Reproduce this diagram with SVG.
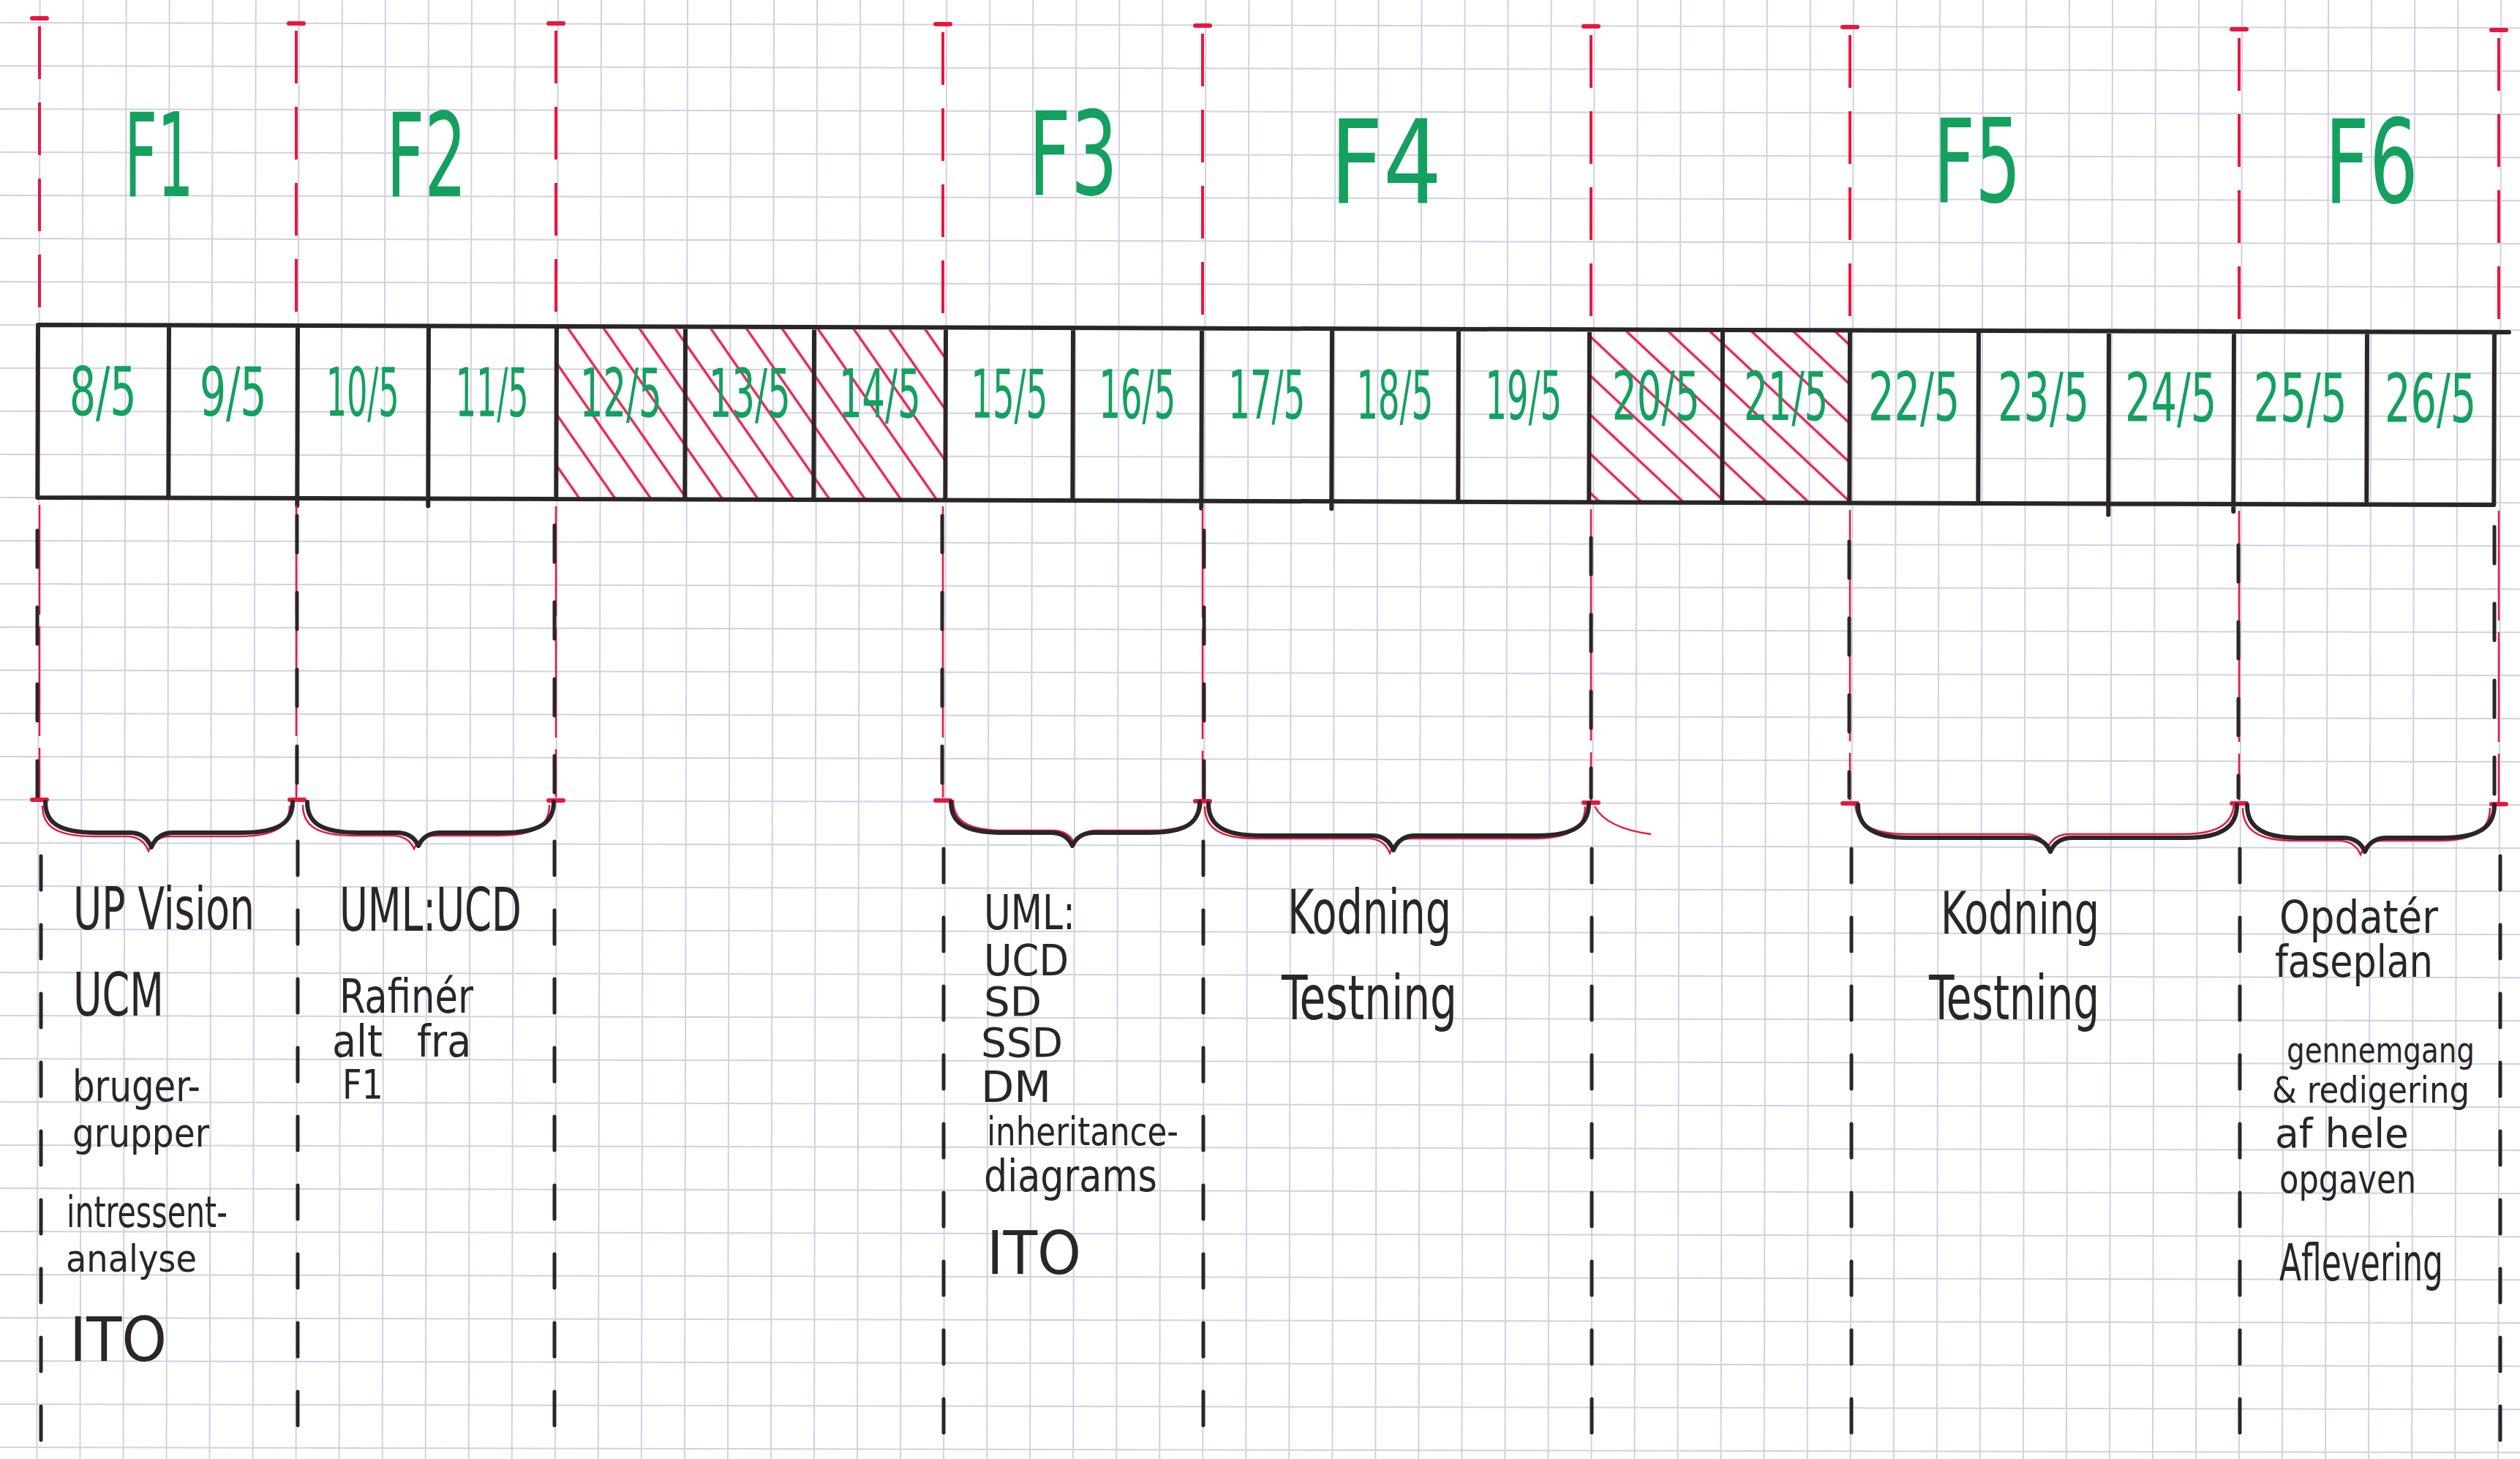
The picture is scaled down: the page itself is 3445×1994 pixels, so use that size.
<svg xmlns="http://www.w3.org/2000/svg" xmlns:xlink="http://www.w3.org/1999/xlink" width="3445" height="1994" viewBox="0 0 3445 1994">
<style>
.hw{font-family:"Liberation Sans Narrow","DejaVu Sans Condensed","Liberation Sans",sans-serif;fill:#2a2527}
.gr{font-family:"Liberation Sans Narrow","DejaVu Sans Condensed","Liberation Sans",sans-serif;fill:#14a05f}
.date{font-size:92px;text-anchor:middle}
.phase{font-size:158px}
.tbl{stroke:#2a2527;stroke-width:6;fill:none;stroke-linecap:round}
.redtop{stroke:#e8173f;stroke-width:4;fill:none;stroke-dasharray:72 32}
.redmid{stroke:#e8173f;stroke-width:2.5;fill:none;stroke-dasharray:150 16}
.blkmid{stroke:#2a2527;stroke-width:5;fill:none;stroke-dasharray:50 55;stroke-linecap:round}
.blkbot{stroke:#2a2527;stroke-width:5;fill:none;stroke-dasharray:46 48;stroke-linecap:round}
.tick{stroke:#e8173f;stroke-width:6;fill:none;stroke-linecap:round}
.brace{stroke:#2a2527;stroke-width:6;fill:none;stroke-linecap:round;stroke-linejoin:round}
.brace-red{stroke:#e8173f;stroke-width:2.5;fill:none}
</style>
<defs>
<pattern id="grid" patternUnits="userSpaceOnUse" x="53.6" y="30" width="59.03" height="59" patternTransform="rotate(0.12)">
<path d="M0 1H59.03M1 0V59" stroke="#d0d1e2" stroke-width="2" fill="none"/>
</pattern>
<pattern id="hatchA" patternUnits="userSpaceOnUse" width="40" height="40" patternTransform="rotate(-35)">
<line x1="20" y1="0" x2="20" y2="40" stroke="#e8194b" stroke-width="3.2"/>
</pattern>
<pattern id="hatchB" patternUnits="userSpaceOnUse" width="39" height="40" patternTransform="rotate(-47)">
<line x1="20" y1="0" x2="20" y2="40" stroke="#e8194b" stroke-width="3.2"/>
</pattern>
<path id="b1" d="M62 1096 C62 1124 80 1138 132 1138 L177 1138 Q199 1138 207 1158 Q215 1138 237 1138 L330 1138 C382 1138 400 1124 400 1096"/>
<path id="b2" d="M420 1096 C420 1124 438 1138 490 1138 L542 1138 Q564 1138 572 1156 Q580 1138 602 1138 L687 1138 C739 1138 757 1124 757 1096"/>
<path id="b3" d="M1300 1096 C1300 1124 1318 1138 1370 1138 L1436 1138 Q1458 1138 1466 1156 Q1474 1138 1496 1138 L1570 1138 C1622 1138 1640 1124 1640 1096"/>
<path id="b4" d="M1652 1098 C1652 1126 1670 1142 1722 1142 L1875 1142 Q1897 1142 1905 1162 Q1913 1142 1935 1142 L2102 1142 C2154 1142 2172 1126 2172 1098"/>
<path id="b5" d="M2540 1100 C2540 1128 2558 1145 2610 1145 L2773 1145 Q2795 1145 2803 1164 Q2811 1145 2833 1145 L2988 1145 C3040 1145 3058 1128 3058 1100"/>
<path id="b6" d="M3072 1100 C3072 1128 3090 1145 3142 1145 L3203 1145 Q3225 1145 3233 1164 Q3241 1145 3263 1145 L3340 1145 C3392 1145 3410 1128 3410 1100"/>
</defs>

<g id="paper">
<rect width="3445" height="1994" fill="#ffffff"/>
<rect width="3445" height="1994" fill="url(#grid)"/>
</g>

<g id="timeline" transform="rotate(0.17 52 444)">
<rect id="hatch-12-14" x="761" y="447" width="532" height="233" fill="url(#hatchA)"/>
<rect id="hatch-20-21" x="2173" y="447" width="356" height="233" fill="url(#hatchB)"/>
<path class="tbl" d="M52 444H3430M52 680H3410M52 444V680M231 444V680M407 444V690M586 444V690M761 444V680M937 444V680M1113 444V680M1293 444V680M1467 444V680M1643 444V690M1821 444V690M1994 444V680M2173 444V680M2355 444V680M2529 444V680M2705 444V675M2883 444V695M3054 444V690M3236 444V675M3410 444V680"/>
<g id="dates">
<text class="gr date" x="141" y="567" textLength="92" lengthAdjust="spacingAndGlyphs">8/5</text>
<text class="gr date" x="319" y="567" textLength="92" lengthAdjust="spacingAndGlyphs">9/5</text>
<text class="gr date" x="496" y="567" textLength="100" lengthAdjust="spacingAndGlyphs">10/5</text>
<text class="gr date" x="673" y="567" textLength="100" lengthAdjust="spacingAndGlyphs">11/5</text>
<text class="gr date" x="849" y="567" textLength="112" lengthAdjust="spacingAndGlyphs">12/5</text>
<text class="gr date" x="1025" y="567" textLength="112" lengthAdjust="spacingAndGlyphs">13/5</text>
<text class="gr date" x="1203" y="567" textLength="112" lengthAdjust="spacingAndGlyphs">14/5</text>
<text class="gr date" x="1380" y="567" textLength="105" lengthAdjust="spacingAndGlyphs">15/5</text>
<text class="gr date" x="1555" y="567" textLength="105" lengthAdjust="spacingAndGlyphs">16/5</text>
<text class="gr date" x="1732" y="567" textLength="105" lengthAdjust="spacingAndGlyphs">17/5</text>
<text class="gr date" x="1907" y="567" textLength="105" lengthAdjust="spacingAndGlyphs">18/5</text>
<text class="gr date" x="2083" y="567" textLength="105" lengthAdjust="spacingAndGlyphs">19/5</text>
<text class="gr date" x="2264" y="567" textLength="120" lengthAdjust="spacingAndGlyphs">20/5</text>
<text class="gr date" x="2442" y="567" textLength="115" lengthAdjust="spacingAndGlyphs">21/5</text>
<text class="gr date" x="2617" y="567" textLength="125" lengthAdjust="spacingAndGlyphs">22/5</text>
<text class="gr date" x="2794" y="567" textLength="125" lengthAdjust="spacingAndGlyphs">23/5</text>
<text class="gr date" x="2968" y="567" textLength="125" lengthAdjust="spacingAndGlyphs">24/5</text>
<text class="gr date" x="3145" y="567" textLength="128" lengthAdjust="spacingAndGlyphs">25/5</text>
<text class="gr date" x="3323" y="567" textLength="125" lengthAdjust="spacingAndGlyphs">26/5</text>
</g>
</g>

<g id="phases">
<g id="phase-F1"><text class="gr phase" x="170" y="268" textLength="95" lengthAdjust="spacingAndGlyphs">F1</text></g>
<g id="phase-F2"><text class="gr phase" x="528" y="268" textLength="110" lengthAdjust="spacingAndGlyphs">F2</text></g>
<g id="phase-F3"><text class="gr phase" x="1406" y="266" textLength="122" lengthAdjust="spacingAndGlyphs">F3</text></g>
<g id="phase-F4"><text class="gr phase" x="1818" y="277" textLength="153" lengthAdjust="spacingAndGlyphs">F4</text></g>
<g id="phase-F5"><text class="gr phase" x="2643" y="276" textLength="120" lengthAdjust="spacingAndGlyphs">F5</text></g>
<g id="phase-F6"><text class="gr phase" x="3178" y="277" textLength="128" lengthAdjust="spacingAndGlyphs">F6</text></g>
</g>

<g id="connectors">
<g id="top-ticks">
<path class="tick" d="M44 25H64M395 32H415M750 32H770M1279 33H1299M1634 35H1654M2165 36H2185M2519 37H2539M3051 40H3071M3406 41H3426"/>
</g>
<g id="red-dashes-top">
<path class="redtop" d="M54 36V440M405 42V440M760 42V442M1289 44V444M1644 46V446M2175 48V448M2529 48V449M3061 52V451M3416 52V452"/>
</g>
<g id="mixed-dashes-mid">
<path class="redmid" d="M54 690V1090M405 690V1090M760 692V1090M1289 692V1090M1644 694V1092M2175 696V1094M2529 697V1094M3061 698V1094M3416 698V1096"/>
<path class="blkmid" d="M51 725V1090M406 705V1090M758 718V1090M1288 705V1090M1646 725V1090M2175 735V1090M2528 740V1090M3060 745V1090M3410 720V1090"/>
</g>
<g id="brace-ticks">
<path class="tick" d="M44 1093H64M396 1093H416M750 1094H770M1279 1094H1299M1634 1095H1654M2165 1097H2185M2519 1098H2539M3051 1098H3071M3406 1099H3426"/>
</g>
<g id="braces">
<use xlink:href="#b1" class="brace-red" transform="translate(-4 5)"/><use xlink:href="#b1" class="brace"/>
<use xlink:href="#b2" class="brace-red" transform="translate(-6 4)"/><use xlink:href="#b2" class="brace"/>
<use xlink:href="#b3" class="brace-red" transform="translate(3 -3)"/><use xlink:href="#b3" class="brace"/>
<use xlink:href="#b4" class="brace-red" transform="translate(-5 4)"/><use xlink:href="#b4" class="brace"/>
<use xlink:href="#b5" class="brace-red" transform="translate(-4 -5)"/><use xlink:href="#b5" class="brace"/>
<use xlink:href="#b6" class="brace-red" transform="translate(-6 4)"/><use xlink:href="#b6" class="brace"/>
<path class="brace-red" d="M2180 1102 Q2196 1132 2257 1140"/>
</g>
<g id="black-dashes-bottom">
<path class="blkbot" d="M56 1170V1994M407 1150V1994M758 1150V1994M1290 1160V1994M1645 1150V1994M2176 1160V1994M2531 1160V1994M3062 1160V1994M3418 1170V1994"/>
</g>
</g>

<g id="notes-F1">
<text class="hw" font-size="80" x="100" y="1270" textLength="248" lengthAdjust="spacingAndGlyphs">UP Vision</text>
<text class="hw" font-size="82" x="100" y="1388" textLength="124" lengthAdjust="spacingAndGlyphs">UCM</text>
<text class="hw" font-size="58" x="99" y="1505" textLength="175" lengthAdjust="spacingAndGlyphs">bruger-</text>
<text class="hw" font-size="54" x="99" y="1567" textLength="187" lengthAdjust="spacingAndGlyphs">grupper</text>
<text class="hw" font-size="58" x="91" y="1677" textLength="220" lengthAdjust="spacingAndGlyphs">intressent-</text>
<text class="hw" font-size="52" x="90" y="1738" textLength="179" lengthAdjust="spacingAndGlyphs">analyse</text>
<text class="hw" font-size="84" x="95" y="1860" textLength="133" lengthAdjust="spacingAndGlyphs">ITO</text>
</g>

<g id="notes-F2">
<text class="hw" font-size="82" x="464" y="1272" textLength="249" lengthAdjust="spacingAndGlyphs">UML:UCD</text>
<text class="hw" font-size="64" x="464" y="1384" textLength="183" lengthAdjust="spacingAndGlyphs">Rafinér</text>
<text class="hw" font-size="60" x="454" y="1444">alt<tspan x="570">fra</tspan></text>
<text class="hw" font-size="56" x="468" y="1501" textLength="56" lengthAdjust="spacingAndGlyphs">F1</text>
</g>

<g id="notes-F3">
<text class="hw" font-size="66" x="1345" y="1270" textLength="125" lengthAdjust="spacingAndGlyphs">UML:</text>
<text class="hw" font-size="58" x="1345" y="1333" textLength="116" lengthAdjust="spacingAndGlyphs">UCD</text>
<text class="hw" font-size="56" x="1345" y="1388" textLength="79" lengthAdjust="spacingAndGlyphs">SD</text>
<text class="hw" font-size="56" x="1341" y="1444" textLength="112" lengthAdjust="spacingAndGlyphs">SSD</text>
<text class="hw" font-size="58" x="1341" y="1506" textLength="96" lengthAdjust="spacingAndGlyphs">DM</text>
<text class="hw" font-size="54" x="1349" y="1565" textLength="262" lengthAdjust="spacingAndGlyphs">inheritance-</text>
<text class="hw" font-size="60" x="1345" y="1628" textLength="237" lengthAdjust="spacingAndGlyphs">diagrams</text>
<text class="hw" font-size="82" x="1349" y="1741" textLength="129" lengthAdjust="spacingAndGlyphs">ITO</text>
</g>

<g id="notes-F4">
<text class="hw" font-size="84" x="1760" y="1276" textLength="224" lengthAdjust="spacingAndGlyphs">Kodning</text>
<text class="hw" font-size="84" x="1752" y="1393" textLength="240" lengthAdjust="spacingAndGlyphs">Testning</text>
</g>

<g id="notes-F5">
<text class="hw" font-size="80" x="2653" y="1276" textLength="217" lengthAdjust="spacingAndGlyphs">Kodning</text>
<text class="hw" font-size="84" x="2637" y="1393" textLength="233" lengthAdjust="spacingAndGlyphs">Testning</text>
</g>

<g id="notes-F6">
<text class="hw" font-size="62" x="3116" y="1275" textLength="217" lengthAdjust="spacingAndGlyphs">Opdatér</text>
<text class="hw" font-size="60" x="3110" y="1335" textLength="216" lengthAdjust="spacingAndGlyphs">faseplan</text>
<text class="hw" font-size="48" x="3126" y="1452" textLength="257" lengthAdjust="spacingAndGlyphs">gennemgang</text>
<text class="hw" font-size="50" x="3106" y="1507" textLength="270" lengthAdjust="spacingAndGlyphs">&amp; redigering</text>
<text class="hw" font-size="56" x="3110" y="1568" textLength="183" lengthAdjust="spacingAndGlyphs">af hele</text>
<text class="hw" font-size="54" x="3116" y="1630" textLength="187" lengthAdjust="spacingAndGlyphs">opgaven</text>
<text class="hw" font-size="70" x="3116" y="1750" textLength="224" lengthAdjust="spacingAndGlyphs">Aflevering</text>
</g>
</svg>
